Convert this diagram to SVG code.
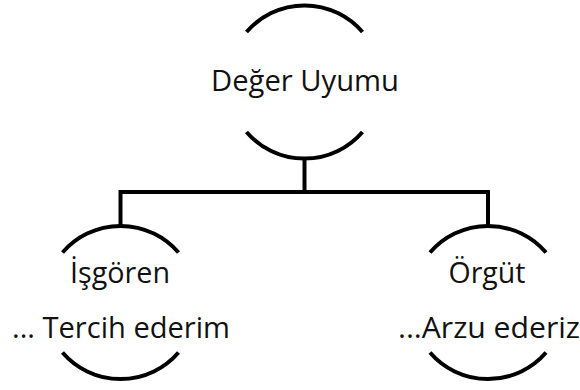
<svg xmlns="http://www.w3.org/2000/svg" width="580" height="390" viewBox="0 0 580 390">
<style>
.arc{fill:none;stroke:#000;stroke-width:4}
.conn{fill:none;stroke:#000;stroke-width:4}
.lbl{font-family:"Open Sans","Noto Sans","DejaVu Sans",sans-serif;font-size:29px;fill:#111;text-anchor:middle}
</style>
<rect width="580" height="390" fill="#fff"/>
<g id="connectors">
<path class="conn" d="M304.5 158.5 V192"/>
<path class="conn" d="M120.5 192 H488"/>
<path class="conn" d="M120.5 190 V226"/>
<path class="conn" d="M488 190 V226"/>
</g>
<g id="node-deger">
<path class="arc" d="M246.5 32 A76.5 76.5 0 0 1 362.5 32"/>
<path class="arc" d="M246.5 132 A76.5 76.5 0 0 0 362.5 132"/>
<text class="lbl" x="305" y="91" textLength="188" lengthAdjust="spacingAndGlyphs">Değer Uyumu</text>
</g>
<g id="node-isgoren">
<path class="arc" d="M62.5 252.5 A76.5 76.5 0 0 1 178.5 252.5"/>
<path class="arc" d="M62.5 352.5 A76.5 76.5 0 0 0 178.5 352.5"/>
<text class="lbl" x="120" y="283" textLength="100" lengthAdjust="spacingAndGlyphs">İşgören</text>
<text class="lbl" x="121" y="338" textLength="218" lengthAdjust="spacingAndGlyphs">... Tercih ederim</text>
</g>
<g id="node-orgut">
<path class="arc" d="M430 252.5 A76.5 76.5 0 0 1 546 252.5"/>
<path class="arc" d="M430 352.5 A76.5 76.5 0 0 0 546 352.5"/>
<text class="lbl" x="487" y="283" textLength="77" lengthAdjust="spacingAndGlyphs">Örgüt</text>
<text class="lbl" x="489" y="338" textLength="182" lengthAdjust="spacingAndGlyphs">...Arzu ederiz</text>
</g>
</svg>
